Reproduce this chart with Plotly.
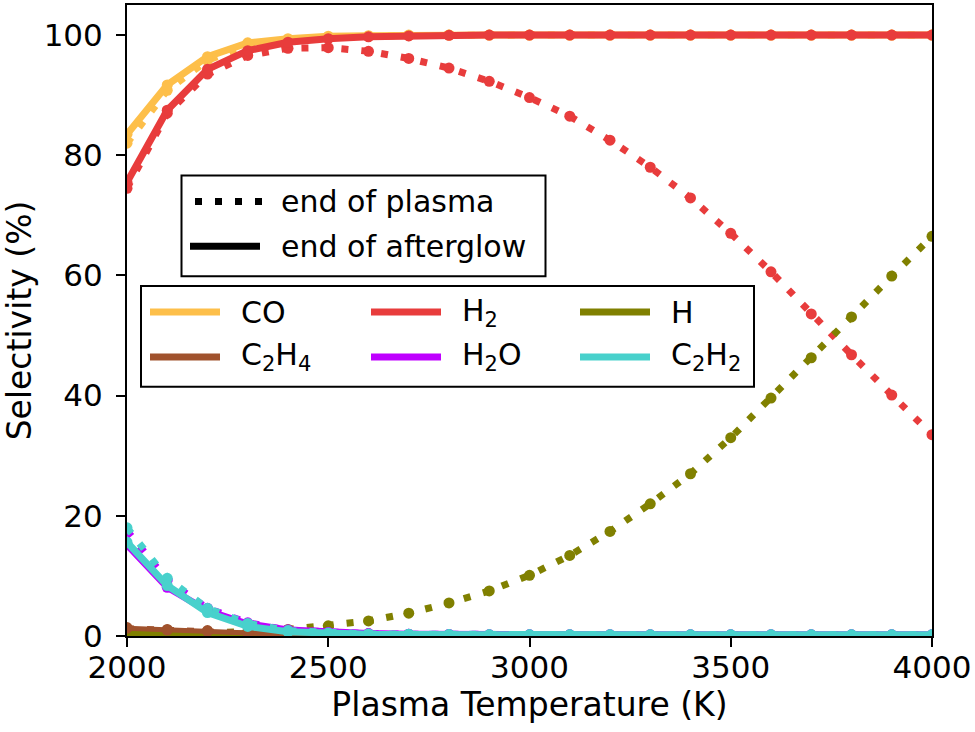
import plotly.graph_objects as go

# ---------------- data ----------------
temperature = [2000, 2100, 2200, 2300, 2400, 2500, 2600, 2700, 2800, 2900, 3000,
               3100, 3200, 3300, 3400, 3500, 3600, 3700, 3800, 3900, 4000]

# end of plasma (dotted)
co_plasma = [82.0, 90.8, 95.8, 98.2, 99.2, 99.6, 99.8, 99.9, 100, 100, 100,
             100, 100, 100, 100, 100, 100, 100, 100, 100, 100]
h2_plasma = [74.5, 87.0, 93.5, 96.6, 97.8, 97.9, 97.3, 96.1, 94.5, 92.3, 89.6,
             86.5, 82.5, 78.0, 72.9, 67.0, 60.6, 53.6, 46.8, 40.1, 33.5]
h_plasma = [0.3, 0.35, 0.45, 0.7, 1.1, 1.7, 2.5, 3.8, 5.5, 7.5, 10.1,
            13.4, 17.4, 22.0, 27.0, 33.0, 39.6, 46.3, 53.1, 59.9, 66.5]
c2h4_plasma = [1.4, 1.1, 0.9, 0.6, 0.3, 0.15, 0.05, 0, 0, 0, 0,
               0, 0, 0, 0, 0, 0, 0, 0, 0, 0]
h2o_plasma = [17.5, 9.3, 4.6, 2.2, 1.0, 0.6, 0.4, 0.3, 0.25, 0.2, 0.2,
              0.2, 0.2, 0.2, 0.2, 0.2, 0.2, 0.2, 0.2, 0.2, 0.2]
c2h2_plasma = [18.0, 9.6, 4.6, 2.1, 0.9, 0.5, 0.35, 0.3, 0.25, 0.2, 0.2,
               0.2, 0.2, 0.2, 0.2, 0.2, 0.2, 0.2, 0.2, 0.2, 0.2]

# end of afterglow (solid)
co_after = [83.5, 91.7, 96.4, 98.7, 99.4, 99.8, 99.9, 100, 100, 100, 100,
            100, 100, 100, 100, 100, 100, 100, 100, 100, 100]
h2_after = [75.5, 87.5, 94.3, 97.4, 98.8, 99.4, 99.7, 99.85, 99.95, 100, 100,
            100, 100, 100, 100, 100, 100, 100, 100, 100, 100]
h_after = [0.45, 0.4, 0.35, 0.25, 0.15, 0.05, 0, 0, 0, 0, 0,
           0, 0, 0, 0, 0, 0, 0, 0, 0, 0]
c2h4_after = [1.3, 1.0, 0.8, 0.5, 0.25, 0.1, 0.05, 0, 0, 0, 0,
              0, 0, 0, 0, 0, 0, 0, 0, 0, 0]
h2o_after = [15.2, 8.1, 4.2, 2.0, 1.0, 0.6, 0.4, 0.3, 0.25, 0.2, 0.2,
             0.2, 0.2, 0.2, 0.2, 0.2, 0.2, 0.2, 0.2, 0.2, 0.2]
c2h2_after = [15.6, 8.4, 3.9, 1.6, 0.7, 0.4, 0.3, 0.25, 0.2, 0.2, 0.2,
              0.2, 0.2, 0.2, 0.2, 0.2, 0.2, 0.2, 0.2, 0.2, 0.2]

species_names = ["CO", "H<sub>2</sub>", "H", "C<sub>2</sub>H<sub>4</sub>",
                 "H<sub>2</sub>O", "C<sub>2</sub>H<sub>2</sub>"]
species_colors = ["#fdbf4a", "#e83c3c", "#808000", "#a0522d", "#bf00ff", "#48d1cc"]
plasma_series = [co_plasma, h2_plasma, h_plasma, c2h4_plasma, h2o_plasma, c2h2_plasma]
after_series = [co_after, h2_after, h_after, c2h4_after, h2o_after, c2h2_after]

x_ticks = [2000, 2500, 3000, 3500, 4000]
y_ticks = [0, 20, 40, 60, 80, 100]

style_labels = ["end of plasma", "end of afterglow"]

# ---------------- figure ----------------
W, H = 975, 732
L, R, T, B = 127, 932, 3, 636
DOT = "7px,13px"

fig = go.Figure()

line_w = [7, 7, 7, 5, 7, 7]
for name, col, ys_p, ys_a, lw in zip(species_names, species_colors,
                                     plasma_series, after_series, line_w):
    fig.add_trace(go.Scatter(
        x=temperature, y=ys_p, mode="lines+markers", name=name + " plasma",
        line=dict(color=col, width=lw, dash=DOT),
        marker=dict(color=col, size=11, symbol="circle"),
        showlegend=False, cliponaxis=True))
    fig.add_trace(go.Scatter(
        x=temperature, y=ys_a, mode="lines+markers", name=name + " afterglow",
        line=dict(color=col, width=lw),
        marker=dict(color=col, size=11, symbol="circle"),
        showlegend=False, cliponaxis=True))


def fx(px):
    return (px - L) / (R - L)


def fy(py):
    return (B - py) / (B - T)


shapes = []
annotations = []
FONT = "DejaVu Sans"
LEG_FS = 30

# legend 1: line styles
shapes.append(dict(type="rect", xref="paper", yref="paper",
                   x0=fx(181.5), x1=fx(545.5), y0=fy(275), y1=fy(174),
                   line=dict(color="black", width=2), fillcolor="white", layer="above"))
style_rows = [200, 245]
shapes.append(dict(type="line", xref="paper", yref="paper",
                   x0=fx(195), x1=fx(262), y0=fy(style_rows[0]), y1=fy(style_rows[0]),
                   line=dict(color="black", width=7, dash=DOT), layer="above"))
shapes.append(dict(type="line", xref="paper", yref="paper",
                   x0=fx(190), x1=fx(260), y0=fy(style_rows[1]), y1=fy(style_rows[1]),
                   line=dict(color="black", width=7), layer="above"))
for lab, ry in zip(style_labels, style_rows):
    annotations.append(dict(text=lab, xref="paper", yref="paper", x=fx(279), y=fy(ry),
                            xanchor="left", yanchor="middle", showarrow=False,
                            font=dict(family=FONT, size=LEG_FS, color="black")))

# legend 2: species (3 columns, row-major)
shapes.append(dict(type="rect", xref="paper", yref="paper",
                   x0=fx(141), x1=fx(754), y0=fy(386), y1=fy(285),
                   line=dict(color="black", width=2), fillcolor="white", layer="above"))
col_line_x = [150, 371, 580]
col_text_x = [239, 460, 669]
row_y = [311, 356]
for i, (name, col) in enumerate(zip(species_names, species_colors)):
    r, c = divmod(i, 3)
    shapes.append(dict(type="line", xref="paper", yref="paper",
                       x0=fx(col_line_x[c]), x1=fx(col_line_x[c] + 70),
                       y0=fy(row_y[r]), y1=fy(row_y[r]),
                       line=dict(color=col, width=7), layer="above"))
    annotations.append(dict(text=name, xref="paper", yref="paper",
                            x=fx(col_text_x[c]), y=fy(row_y[r]),
                            xanchor="left", yanchor="middle", showarrow=False,
                            font=dict(family=FONT, size=LEG_FS, color="black")))

fig.update_layout(
    width=W, height=H,
    margin=dict(l=L, r=W - R, t=T, b=H - B, pad=0),
    paper_bgcolor="white", plot_bgcolor="white",
    font=dict(family=FONT, size=31, color="black"),
    shapes=shapes, annotations=annotations,
    showlegend=False,
)
fig.update_xaxes(
    range=[2000, 4000], tickvals=x_ticks, ticktext=[str(v) for v in x_ticks],
    showline=True, linecolor="black", linewidth=2, mirror=True,
    ticks="outside", ticklen=9, tickwidth=2, tickcolor="black",
    showgrid=False, zeroline=False, ticklabelstandoff=-6,
    tickfont=dict(family=FONT, size=31),
    title=dict(text="Plasma Temperature (K)", font=dict(family=FONT, size=33), standoff=6),
)
fig.update_yaxes(
    range=[0, 105], tickvals=y_ticks, ticktext=[str(v) for v in y_ticks],
    showline=True, linecolor="black", linewidth=2, mirror=True,
    ticks="outside", ticklen=9, tickwidth=2, tickcolor="black",
    showgrid=False, zeroline=False, ticklabelstandoff=7,
    tickfont=dict(family=FONT, size=31),
    title=dict(text="Selectivity (%)", font=dict(family=FONT, size=33), standoff=8),
)

fig.write_html("out.html", config={"displayModeBar": False},
               post_script="document.body.style.margin='0';")
